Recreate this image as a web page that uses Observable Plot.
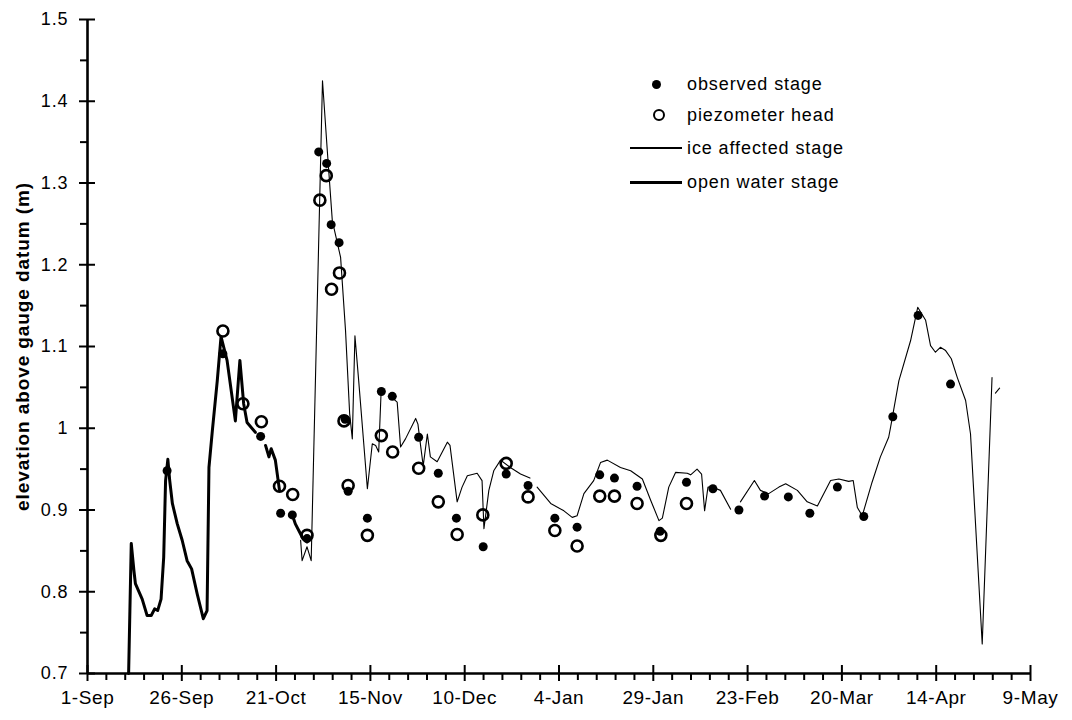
<!DOCTYPE html>
<html>
<head>
<meta charset="utf-8">
<script src="https://cdn.jsdelivr.net/npm/d3@7"></script>
<script src="https://cdn.jsdelivr.net/npm/@observablehq/plot@0.6"></script>
<style>
  html, body { margin: 0; padding: 0; background: #fff; }
  #chart { position: relative; width: 1072px; height: 720px; font-family: "Liberation Sans", Arial, Helvetica, sans-serif; color: #000; }
  #chart svg text { letter-spacing: 0.9px; }
  #chart svg g[aria-label="x-axis tick label"] text { letter-spacing: 0.6px; }
  .lg { position: absolute; }
  .lg-text { position: absolute; left: 687px; height: 24px; line-height: 24px; font-size: 18px; letter-spacing: 0.9px; white-space: nowrap; }
</style>
</head>
<body>
<div id="chart"></div>
<script>
// Season start (1 Sep); every value below is given as days since this date.
const seasonStart = Date.UTC(1994, 8, 1);
const toDate = d => new Date(seasonStart + d * 864e5);

// Axis ticks
const xTickLabels = ["1-Sep", "26-Sep", "21-Oct", "15-Nov", "10-Dec", "4-Jan", "29-Jan", "23-Feb", "20-Mar", "14-Apr", "9-May"];
const xMajorDays = [0, 25, 50, 75, 100, 125, 150, 175, 200, 225, 250];
const yTickValues = [0.7, 0.8, 0.9, 1.0, 1.1, 1.2, 1.3, 1.4, 1.5];
const yTickLabels = ["0.7", "0.8", "0.9", "1", "1.1", "1.2", "1.3", "1.4", "1.5"];

// Open water stage (continuous record, null = gap)
const openWaterDay = [10.9, 11.6, 12.3, 12.7, 14.5, 15.8, 16.9, 17.8, 18.6, 19.5,
  20.2, 20.7, 21.3, 21.8, 22.5, 23.8, 25.1, 26.4, 27.6, 29.1,
  30.7, 31.7, 32.2, 33.1, 34.4, 35.4, 37.0, 39.2, 40.4, 41.4,
  42.3, 44.5, 45.8, 47.2, 48.1, 48.7, 49.8, 50.9, 52.8, 54.6,
  55.1, 56.9, 58.2];
const openWaterStage = [0.700, 0.859, 0.826, 0.810, 0.791, 0.771, 0.771, 0.779, 0.777, 0.791,
  0.842, 0.936, 0.962, 0.936, 0.908, 0.883, 0.863, 0.838, 0.828, 0.797,
  0.767, 0.777, 0.952, 0.997, 1.058, 1.112, 1.083, 1.009, 1.083, 1.030,
  1.007, 0.995, null, 0.979, 0.965, 0.975, 0.961, 0.924, null, 0.890,
  0.883, 0.867, 0.861];

// Ice affected stage (continuous record, null = gap)
const iceDay = [56.5, 56.9, 58.2, 59.3, 62.3, 63.6, 64.9, 67.1, 68.4, 69.5,
  70.2, 70.9, 71.9, 74.2, 75.5, 76.4, 77.2, 77.8, 79.5, 81.1,
  82.1, 83.0, 84.3, 87.0, 87.6, 88.3, 89.0, 90.1, 90.9, 92.7,
  95.4, 96.1, 98.0, 99.3, 100.7, 103.3, 104.6, 105.1, 106.4, 107.7,
  109.5, 112.1, 114.8, 117.3, 118.3, 119.2, 122.8, 126.3, 128.5, 129.8,
  131.6, 134.2, 136.0, 137.8, 141.3, 144.0, 147.1, 149.3, 151.5, 152.4,
  154.1, 155.9, 159.0, 159.9, 161.6, 162.8, 163.6, 164.5, 165.6, 167.8,
  170.5, 171.8, 173.1, 176.8, 178.4, 180.6, 183.3, 185.1, 188.2, 190.8,
  193.5, 197.0, 199.2, 201.8, 203.0, 204.1, 205.4, 208.0, 210.2, 212.4,
  212.9, 215.1, 218.2, 220.1, 222.2, 223.5, 224.8, 226.1, 227.5, 229.0,
  230.6, 232.8, 234.1, 237.2, 239.8, 240.3, 240.7, 241.8];
const iceStage = [0.863, 0.838, 0.855, 0.838, 1.425, 1.338, 1.254, 1.209, 1.120, 1.018,
  0.987, 1.113, 1.058, 0.926, 0.981, 0.979, 0.971, 1.040, null, 1.036,
  1.032, 0.977, 0.987, 1.012, 1.005, 0.979, 0.954, 0.993, 0.965, 0.959,
  0.983, 0.979, 0.910, 0.928, 0.942, 0.945, 0.936, 0.877, 0.924, 0.948,
  0.961, 0.952, 0.944, 0.939, null, 0.928, 0.908, 0.899, 0.891, 0.893,
  0.920, 0.936, 0.958, 0.961, 0.952, 0.948, 0.938, 0.912, 0.887, 0.890,
  0.928, 0.946, 0.945, 0.943, 0.950, 0.944, 0.899, 0.928, 0.928, 0.924,
  0.901, null, 0.910, 0.936, 0.924, 0.920, 0.928, 0.932, 0.924, 0.910,
  0.905, 0.936, 0.938, 0.935, 0.936, 0.903, 0.893, 0.934, 0.965, 0.989,
  1.001, 1.058, 1.107, 1.148, 1.132, 1.101, 1.093, 1.099, 1.095, 1.085,
  1.062, 1.034, 0.993, 0.736, 1.062, null, 1.043, 1.049];

// Observed stage (manual readings)
const observedDay = [21.1, 35.9, 45.9, 51.2, 54.3, 58.2, 61.3, 63.4, 64.6, 66.7,
  68.3, 69.1, 74.2, 77.9, 80.8, 87.8, 93.0, 97.8, 104.9, 111.0,
  116.8, 123.9, 129.8, 135.8, 139.7, 145.7, 151.8, 158.8, 165.8, 172.7,
  179.5, 185.8, 191.5, 198.8, 205.8, 213.5, 220.2, 228.8];
const observedStage = [0.948, 1.091, 0.990, 0.896, 0.894, 0.865, 1.338, 1.324, 1.249, 1.227,
  1.011, 0.923, 0.890, 1.045, 1.039, 0.989, 0.945, 0.890, 0.855, 0.944,
  0.930, 0.890, 0.879, 0.943, 0.939, 0.929, 0.874, 0.934, 0.926, 0.900,
  0.917, 0.916, 0.896, 0.928, 0.892, 1.014, 1.138, 1.054];

// Piezometer head
const piezoDay = [35.9, 41.2, 46.1, 50.9, 54.4, 58.2, 61.6, 63.3, 64.7, 66.8,
  68.0, 69.1, 74.2, 77.9, 80.9, 87.8, 93.0, 98.0, 104.8, 111.0,
  116.8, 123.9, 129.8, 135.8, 139.7, 145.7, 152.0, 158.8];
const piezoHead = [1.119, 1.030, 1.008, 0.929, 0.919, 0.869, 1.279, 1.309, 1.170, 1.190,
  1.009, 0.930, 0.869, 0.991, 0.971, 0.951, 0.910, 0.870, 0.894, 0.957,
  0.916, 0.875, 0.856, 0.917, 0.917, 0.908, 0.869, 0.908];

const rows = (days, vals) => days.map((d, i) => ({date: toDate(d), value: vals[i]}));
const openWater = rows(openWaterDay, openWaterStage);
const ice = rows(iceDay, iceStage);
const observed = rows(observedDay, observedStage);
const piezo = rows(piezoDay, piezoHead);

// Layout
const W = 1072, H = 720, mL = 87, mR = 42, mT = 19, mB = 47;
const yPerPx = 0.8 / (H - mT - mB);    // data units per pixel, y
const dPerPx = 250 / (W - mL - mR);    // days per pixel, x

const xMajor = xMajorDays.map(toDate);
const xMinor = d3.range(0, 251, 5).filter(d => d % 25 !== 0).map(toDate);
const yMinor = d3.range(0.75, 1.5, 0.1).map(v => +v.toFixed(2));

const fmtX = d => xTickLabels[xMajor.findIndex(m => +m === +d)];
const fmtY = v => yTickLabels[yTickValues.findIndex(t => Math.abs(t - v) < 1e-9)];

const chart = Plot.plot({
  width: W,
  height: H,
  marginLeft: mL,
  marginRight: mR,
  marginTop: mT,
  marginBottom: mB,
  style: {fontFamily: "'Liberation Sans', Arial, Helvetica, sans-serif", fontSize: "18px", color: "#000", background: "#fff", overflow: "visible"},
  x: {type: "utc", domain: [toDate(0), toDate(250)]},
  y: {domain: [0.7, 1.5]},
  marks: [
    // axis lines
    Plot.ruleY([0.7], {stroke: "#000", strokeWidth: 2.6}),
    Plot.ruleX([toDate(0)], {stroke: "#000", strokeWidth: 2.6}),
    // x ticks: major cross the axis, minor hang below
    Plot.ruleX(xMajor, {y1: () => 0.7 - 8 * yPerPx, y2: () => 0.7 + 8 * yPerPx, stroke: "#000", strokeWidth: 2}),
    Plot.ruleX(xMinor, {y1: () => 0.7 - 7 * yPerPx, y2: () => 0.7, stroke: "#000", strokeWidth: 2}),
    Plot.axisX(xMajor, {tickSize: 0, tickPadding: 17, tickFormat: fmtX, fontSize: 19, label: null}),
    // y ticks: major cross the axis, minor point outward
    Plot.ruleY(yTickValues, {x1: () => toDate(-8 * dPerPx), x2: () => toDate(8 * dPerPx), stroke: "#000", strokeWidth: 2}),
    Plot.ruleY(yMinor, {x1: () => toDate(-7 * dPerPx), x2: () => toDate(0), stroke: "#000", strokeWidth: 2}),
    Plot.axisY(yTickValues, {tickSize: 0, tickPadding: 19, tickFormat: fmtY, fontSize: 18, label: null}),
    Plot.text(["elevation above gauge datum (m)"], {frameAnchor: "left", textAnchor: "middle", rotate: -90, dx: -65, fontSize: 19, fontWeight: "bold", fill: "#000"}),
    // series
    Plot.line(openWater, {x: "date", y: "value", stroke: "#000", strokeWidth: 3, curve: "linear"}),
    Plot.line(ice, {x: "date", y: "value", stroke: "#000", strokeWidth: 1.1, curve: "linear"}),
    Plot.dot(piezo, {x: "date", y: "value", r: 5.5, stroke: "#000", strokeWidth: 2.6, fill: "none"}),
    Plot.dot(observed, {x: "date", y: "value", r: 4.5, fill: "#000", stroke: "none"})
  ]
});

const root = document.getElementById("chart");
root.appendChild(chart);

// Legend (top right of the plot area)
const legendItems = [
  {label: "observed stage", cy: 84, kind: "dot"},
  {label: "piezometer head", cy: 115, kind: "ring"},
  {label: "ice affected stage", cy: 148, kind: "thin"},
  {label: "open water stage", cy: 182, kind: "thick"}
];
for (const item of legendItems) {
  const sym = document.createElement("div");
  sym.className = "lg";
  if (item.kind === "dot") {
    Object.assign(sym.style, {left: "651.5px", top: (item.cy - 4.5) + "px", width: "9px", height: "9px", borderRadius: "50%", background: "#000"});
  } else if (item.kind === "ring") {
    Object.assign(sym.style, {left: "653px", top: (item.cy - 6) + "px", width: "12px", height: "12px", borderRadius: "50%", border: "2.6px solid #000", boxSizing: "border-box"});
  } else {
    const h = item.kind === "thin" ? 1.2 : 3;
    Object.assign(sym.style, {left: "630px", top: (item.cy - h / 2) + "px", width: "52px", height: h + "px", background: "#000"});
  }
  root.appendChild(sym);
  const txt = document.createElement("div");
  txt.className = "lg-text";
  txt.style.top = (item.cy - 12) + "px";
  txt.textContent = item.label;
  root.appendChild(txt);
}
</script>
</body>
</html>
